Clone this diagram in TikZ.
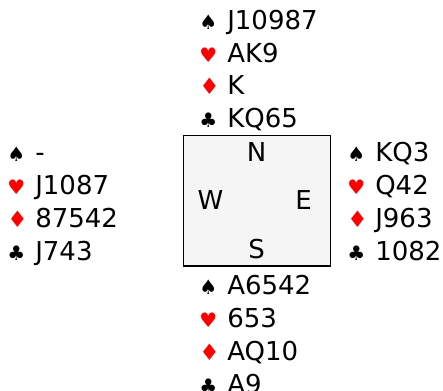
\documentclass[tikz,border=0pt]{standalone}
\usepackage{fontspec}
\setmainfont{DejaVu Sans}
\usepackage{xcolor}
\usetikzlibrary{positioning}
\definecolor{cRed}{RGB}{255,0,0}
\definecolor{cTable}{RGB}{245,245,245}
\newcommand{\handfont}{\fontsize{19.5pt}{24pt}\selectfont}
\newcommand{\suitfont}{\fontsize{15pt}{16pt}\selectfont}
\newcommand{\suitmark}[2]{\makebox[21pt][l]{\textcolor{#1}{\suitfont #2}}}
\newcommand{\spd}{\suitmark{black}{♠}}
\newcommand{\hrt}{\suitmark{cRed}{♥}}
\newcommand{\dmd}{\suitmark{cRed}{\fontsize{17pt}{17pt}\selectfont ♦}}
\newcommand{\clb}{\suitmark{black}{♣}}
\tikzset{
  cardline/.style={anchor=base west,inner sep=0pt,font=\handfont},
  seat/.style={anchor=base,inner sep=0pt,font=\handfont},
  tablebox/.style={rectangle,draw=black,line width=1.1pt,fill=cTable,
                   minimum width=110.4pt,minimum height=98pt}
}
\begin{document}
\begin{tikzpicture}[x=0.75pt,y=-0.75pt]
  \useasboundingbox (0,0) rectangle (443,391);

  % Table
  \node[tablebox] (table) at (257,200.9) {};
  \node[seat] (seatN) at (256.7,161.7) {N};
  \node[seat] (seatW) at (210.5,210) {W};
  \node[seat] (seatE) at (303.7,210) {E};
  \node[seat] (seatS) at (256.7,258.3) {S};

  % North
  \node[cardline] (n1) at (199,29.3)  {\spd J10987};
  \node[cardline] (n2) at (199,62.1)  {\hrt AK9};
  \node[cardline] (n3) at (199,94.9)  {\dmd K};
  \node[cardline] (n4) at (199,127.7) {\clb KQ65};

  % West
  \node[cardline] (w1) at (7,162)   {\spd -};
  \node[cardline] (w2) at (7,194.8) {\hrt J1087};
  \node[cardline] (w3) at (7,227.6) {\dmd 87542};
  \node[cardline] (w4) at (7,260.4) {\clb J743};

  % East
  \node[cardline] (e1) at (347,162)   {\spd KQ3};
  \node[cardline] (e2) at (347,194.8) {\hrt Q42};
  \node[cardline] (e3) at (347,227.6) {\dmd J963};
  \node[cardline] (e4) at (347,260.4) {\clb 1082};

  % South
  \node[cardline] (s1) at (199,295)   {\spd A6542};
  \node[cardline] (s2) at (199,327.8) {\hrt 653};
  \node[cardline] (s3) at (199,360.6) {\dmd AQ10};
  \node[cardline] (s4) at (199,393.4) {\clb A9};

\end{tikzpicture}
\end{document}
